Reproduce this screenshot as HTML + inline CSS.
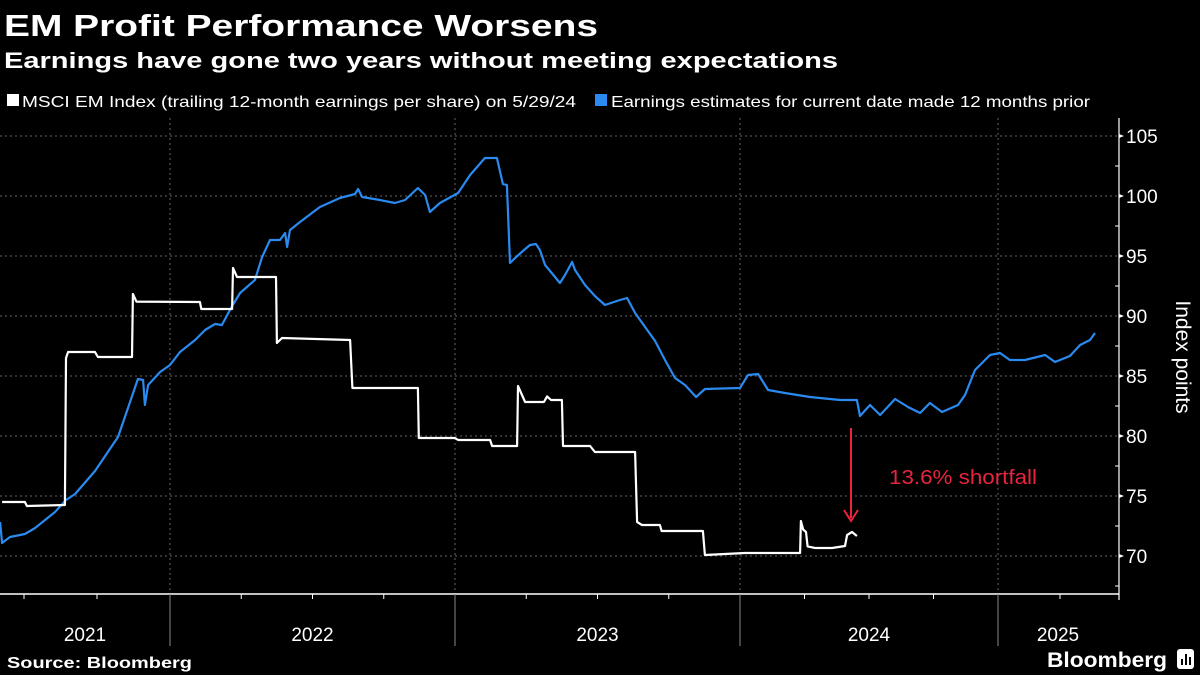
<!DOCTYPE html>
<html><head><meta charset="utf-8"><style>
html,body{margin:0;padding:0;background:#000;}
svg{display:block;}
text{font-family:"Liberation Sans",sans-serif;}
</style></head><body>
<svg id="chart" width="1200" height="675" viewBox="0 0 1200 675" xmlns="http://www.w3.org/2000/svg">
<rect width="1200" height="675" fill="#000"/>
<text x="4" y="36" fill="#fff" font-size="31" font-weight="bold" textLength="594" lengthAdjust="spacingAndGlyphs">EM Profit Performance Worsens</text>
<text x="4" y="68" fill="#fff" font-size="22" font-weight="bold" textLength="834" lengthAdjust="spacingAndGlyphs">Earnings have gone two years without meeting expectations</text>
<g>
<g>
<rect x="7" y="94" width="12" height="12" fill="#fff"/>
<text x="22" y="107" fill="#fff" font-size="16" textLength="554" lengthAdjust="spacingAndGlyphs">MSCI EM Index (trailing 12-month earnings per share) on 5/29/24</text>
</g>
<g>
<rect x="595" y="94" width="12" height="12" fill="#2a8af0"/>
<text x="611" y="107" fill="#fff" font-size="16" textLength="479" lengthAdjust="spacingAndGlyphs">Earnings estimates for current date made 12 months prior</text>
</g>
</g>
<g id="grid"></g>
<g id="axes"></g>
<g id="series"></g>
<g>
<line x1="851" y1="428" x2="851" y2="518" stroke="#e8243f" stroke-width="2"/>
<polyline points="844,510 851,521 858,510" fill="none" stroke="#e8243f" stroke-width="2"/>
<text x="889" y="484" fill="#e8243f" font-size="20" textLength="148" lengthAdjust="spacingAndGlyphs">13.6% shortfall</text>
</g>
<text transform="translate(1176,357) rotate(90)" text-anchor="middle" fill="#fff" font-size="21">Index points</text>
<text x="7" y="668" fill="#fff" font-size="16" font-weight="bold" textLength="185" lengthAdjust="spacingAndGlyphs">Source: Bloomberg</text>
<g>
<text x="1047" y="667" fill="#fff" font-size="21" font-weight="bold" textLength="120" lengthAdjust="spacingAndGlyphs">Bloomberg</text>
<rect x="1177" y="649" width="17" height="20" rx="3" fill="#fff"/>
<rect x="1181" y="659" width="2" height="6" fill="#000"/><rect x="1185" y="654" width="2" height="11" fill="#000"/><rect x="1189" y="657" width="2" height="8" fill="#000"/>
</g>
</svg>
<script>
const yTicks=[70,75,80,85,90,95,100,105];
const yearLabels=['2021','2022','2023','2024','2025'];
const estDates=[2021.418,2021.425,2021.452,2021.503,2021.538,2021.606,2021.644,2021.675,2021.743,2021.822,2021.856,2021.890,2021.908,2021.914,2021.925,2021.966,2022.000,2022.035,2022.088,2022.123,2022.158,2022.182,2022.218,2022.246,2022.298,2022.323,2022.351,2022.386,2022.404,2022.411,2022.421,2022.456,2022.526,2022.596,2022.649,2022.660,2022.674,2022.737,2022.789,2022.825,2022.870,2022.895,2022.912,2022.947,2023.011,2023.053,2023.105,2023.147,2023.168,2023.182,2023.193,2023.211,2023.242,2023.263,2023.284,2023.298,2023.316,2023.351,2023.368,2023.386,2023.411,2023.421,2023.456,2023.491,2023.526,2023.579,2023.604,2023.632,2023.667,2023.702,2023.737,2023.772,2023.807,2023.846,2023.877,2024.000,2024.031,2024.070,2024.109,2024.174,2024.271,2024.388,2024.453,2024.465,2024.504,2024.543,2024.601,2024.651,2024.698,2024.736,2024.783,2024.845,2024.872,2024.911,2024.969,2025.008,2025.048,2025.109,2025.190,2025.230,2025.290,2025.331,2025.371,2025.391];
const estValues=[72.83,71.08,71.58,71.83,72.33,73.67,74.67,75.17,77.08,79.92,82.33,84.75,84.67,82.58,84.25,85.33,85.92,87.00,88.00,88.83,89.33,89.25,90.83,91.92,93.00,94.92,96.33,96.33,96.92,95.75,97.17,97.83,99.08,99.83,100.17,100.58,99.92,99.67,99.42,99.67,100.67,100.08,98.67,99.42,100.25,101.75,103.17,103.17,101.00,100.92,94.42,94.83,95.50,95.92,96.00,95.50,94.25,93.25,92.75,93.42,94.50,93.83,92.58,91.67,90.92,91.33,91.50,90.25,89.08,87.92,86.33,84.83,84.25,83.25,83.92,84.00,85.08,85.17,83.83,83.58,83.25,83.00,83.00,81.67,82.58,81.75,83.08,82.42,81.92,82.75,82.00,82.58,83.42,85.50,86.75,86.92,86.33,86.33,86.75,86.17,86.67,87.58,88.00,88.58];
const epsDates=[2021.425,2021.503,2021.510,2021.640,2021.644,2021.651,2021.743,2021.753,2021.870,2021.873,2021.885,2022.105,2022.110,2022.218,2022.221,2022.235,2022.372,2022.375,2022.393,2022.632,2022.640,2022.870,2022.873,2023.000,2023.011,2023.123,2023.130,2023.218,2023.221,2023.246,2023.312,2023.323,2023.337,2023.375,2023.379,2023.474,2023.491,2023.632,2023.639,2023.656,2023.719,2023.725,2023.870,2023.877,2024.019,2024.233,2024.236,2024.245,2024.256,2024.262,2024.291,2024.357,2024.407,2024.415,2024.434,2024.453];
const epsValues=[74.5,74.5,74.17,74.25,86.5,87.0,87.0,86.58,86.58,91.83,91.2,91.17,90.58,90.58,94.0,93.25,93.25,87.75,88.17,88.0,84.0,84.0,79.83,79.83,79.67,79.67,79.17,79.17,84.17,82.83,82.83,83.3,83.0,83.0,79.17,79.17,78.67,78.67,72.83,72.58,72.58,72.08,72.08,70.08,70.25,70.25,72.92,72.2,72.0,70.8,70.67,70.67,70.83,71.75,72.0,71.67];

const NS='http://www.w3.org/2000/svg';
const knotT=[2021,2022,2023,2024,2025,2026], knotX=[-122,170,455,740,998,1246];
function xScale(t){for(let i=0;i<knotT.length-1;i++){if(t<=knotT[i+1]||i===knotT.length-2){return knotX[i]+(t-knotT[i])/(knotT[i+1]-knotT[i])*(knotX[i+1]-knotX[i]);}}}
function yScale(v){return 556-(v-70)*12;}
function mk(tag,attrs,parent){const e=document.createElementNS(NS,tag);for(const k in attrs)e.setAttribute(k,attrs[k]);parent.appendChild(e);return e;}
const grid=document.getElementById('grid'),axes=document.getElementById('axes'),series=document.getElementById('series');
const AX=1119, BOT=594;
yTicks.forEach(v=>{const y=yScale(v);
 const g=mk('line',{x1:0,x2:AX,y1:y,y2:y,stroke:'#666','stroke-width':1,'stroke-dasharray':'2,3'},grid);
 
 
 const tk=mk('polygon',{points:`${AX},${y-2} ${AX+5},${y} ${AX},${y+2}`,fill:'#fff'},axes);
 
 
 const t=mk('text',{x:AX+7,y:y+7,fill:'#fff','font-size':19},axes);t.textContent=v;
 
 
 const m=yScale(v+2.5); if(v<105) mk('line',{x1:AX-4,x2:AX,y1:m,y2:m,stroke:'#fff','stroke-width':1},axes);
});
mk('line',{x1:AX-4,x2:AX,y1:yScale(67.5),y2:yScale(67.5),stroke:'#fff'},axes);
const yAxis=mk('line',{x1:AX,x2:AX,y1:118,y2:BOT+6,stroke:'#fff','stroke-width':1.2},axes);


const xAxis=mk('line',{x1:0,x2:AX,y1:BOT,y2:BOT,stroke:'#fff','stroke-width':1.5},axes);


yearLabels.forEach((lab,i)=>{const yr=+lab;const x0=Math.max(0,xScale(yr)),x1=Math.min(AX,xScale(yr+1));
 if(i>0){const gl=mk('line',{x1:xScale(yr),x2:xScale(yr),y1:118,y2:BOT,stroke:'#666','stroke-width':1,'stroke-dasharray':'2,3'},grid);
  
  
  mk('line',{x1:xScale(yr),x2:xScale(yr),y1:BOT,y2:646,stroke:'#888','stroke-width':1},axes);}
 for(let q=1;q<4;q++){const qx=xScale(yr+q/4);if(qx>0&&qx<AX)mk('line',{x1:qx,x2:qx,y1:BOT,y2:BOT+5,stroke:'#fff','stroke-width':1},axes);}
 const t=mk('text',{x:(i===4?1058:(x0+x1)/2),y:641,fill:'#fff','font-size':19,'text-anchor':'middle'},axes);t.textContent=lab;
 
 
});
function path(ds,vs){return ds.map((d,i)=>(i?'L':'M')+xScale(d).toFixed(1)+','+yScale(vs[i]).toFixed(1)).join('');}
const est=mk('path',{d:path(estDates,estValues),fill:'none',stroke:'#2a8af0','stroke-width':2.2,'stroke-linejoin':'round'},series);


const eps=mk('path',{d:path(epsDates,epsValues),fill:'none',stroke:'#fff','stroke-width':2.2,'stroke-linejoin':'round'},series);


</script>
</body></html>
